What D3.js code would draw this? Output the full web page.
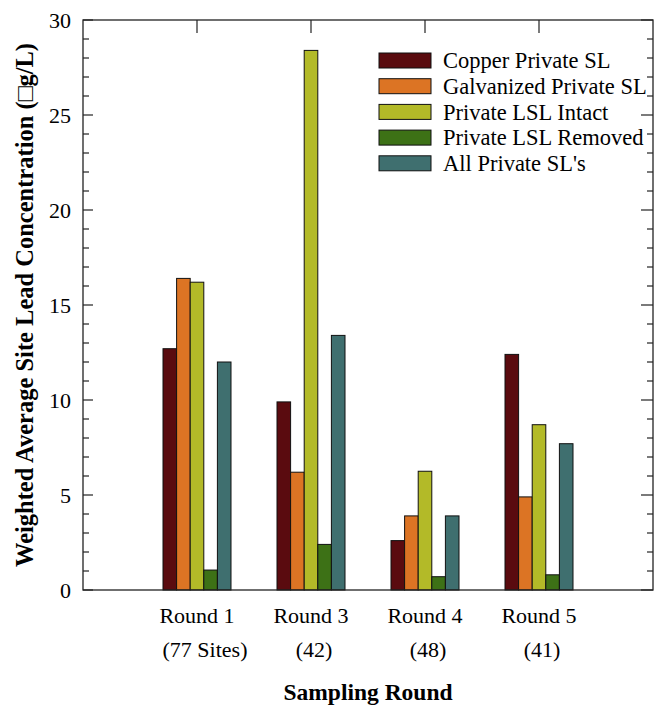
<!DOCTYPE html>
<html>
<head>
<meta charset="utf-8">
<script src="https://cdn.jsdelivr.net/npm/d3@7"></script>
<style>
  body { margin: 0; background: #fff; }
  svg { display: block; font-family: "Liberation Serif", "Times New Roman", serif; }
</style>
</head>
<body>
<div id="chart"></div>
<script>
const rounds = ["Round 1", "Round 3", "Round 4", "Round 5"];
const siteCounts = ["(77 Sites)", "(42)", "(48)", "(41)"];
const seriesNames = ["Copper Private SL", "Galvanized Private SL", "Private LSL Intact", "Private LSL Removed", "All Private SL's"];
const seriesColors = ["#5a0b0f", "#dc7424", "#b3ba28", "#3d7116", "#3f6f6f"];

const copperSL = [12.7, 9.9, 2.6, 12.4];
const galvanizedSL = [16.4, 6.2, 3.9, 4.9];
const lslIntact = [16.2, 28.4, 6.25, 8.7];
const lslRemoved = [1.05, 2.4, 0.7, 0.8];
const allPrivateSL = [12.0, 13.4, 3.9, 7.7];
const seriesValues = [copperSL, galvanizedSL, lslIntact, lslRemoved, allPrivateSL];

const yTicks = [0, 5, 10, 15, 20, 25, 30];

const margin = { top: 20, right: 1, bottom: 116, left: 83 };
const width = 654 - margin.left - margin.right;
const height = 706 - margin.top - margin.bottom;

const svg = d3.select("#chart")
  .append("svg")
    .attr("width", 654)
    .attr("height", 706)
  .append("g")
    .attr("transform", `translate(${margin.left}, ${margin.top})`);

const x = d3.scalePoint()
  .domain(rounds)
  .range([0, width])
  .padding(1);

const barW = 13.6;
const xSub = d3.scaleBand()
  .domain(seriesNames)
  .range([-barW * 2.5, barW * 2.5]);

const y = d3.scaleLinear()
  .domain([0, 30])
  .range([height, 0]);

// bars
seriesNames.forEach((name, si) => {
  svg.append("g")
    .selectAll("rect")
    .data(rounds)
    .enter()
    .append("rect")
      .attr("x", d => x(d) + xSub(name))
      .attr("y", (d, i) => y(seriesValues[si][i]))
      .attr("width", xSub.bandwidth())
      .attr("height", (d, i) => y(0) - y(seriesValues[si][i]))
      .attr("fill", seriesColors[si])
      .attr("stroke", "#111")
      .attr("stroke-width", 1);
});

// frame
svg.append("rect")
  .attr("x", 0).attr("y", 0)
  .attr("width", width).attr("height", height)
  .attr("fill", "none")
  .attr("stroke", "#222")
  .attr("stroke-width", 1.3);

const minorTicks = d3.range(0, 31, 1);

// left axis: inward ticks
const leftAxis = svg.append("g");
leftAxis.selectAll("line")
  .data(minorTicks)
  .enter()
  .append("line")
    .attr("x1", 0)
    .attr("x2", d => d % 5 === 0 ? 10 : 6)
    .attr("y1", d => y(d))
    .attr("y2", d => y(d))
    .attr("stroke", "#222")
    .attr("stroke-width", 1.2);

leftAxis.selectAll("text")
  .data(yTicks)
  .enter()
  .append("text")
    .attr("x", -12)
    .attr("y", d => y(d))
    .attr("dy", "0.35em")
    .attr("text-anchor", "end")
    .style("font-size", "22px")
    .text(d => d);

// right axis: inward ticks
svg.append("g")
  .selectAll("line")
  .data(minorTicks)
  .enter()
  .append("line")
    .attr("x1", width)
    .attr("x2", d => width - (d % 5 === 0 ? 12 : 6))
    .attr("y1", d => y(d))
    .attr("y2", d => y(d))
    .attr("stroke", "#222")
    .attr("stroke-width", 1.2);

// top axis ticks at categories
svg.append("g")
  .selectAll("line")
  .data(rounds)
  .enter()
  .append("line")
    .attr("x1", d => x(d))
    .attr("x2", d => x(d))
    .attr("y1", 0)
    .attr("y2", 13)
    .attr("stroke", "#222")
    .attr("stroke-width", 1.2);

// x labels
svg.append("g")
  .selectAll("text")
  .data(rounds)
  .enter()
  .append("text")
    .attr("x", d => x(d))
    .attr("y", height + 33)
    .attr("text-anchor", "middle")
    .style("font-size", "22px")
    .text(d => d);

svg.append("g")
  .selectAll("text")
  .data(rounds)
  .enter()
  .append("text")
    .attr("x", (d, i) => x(d) + (i === 0 ? 8 : 3))
    .attr("y", height + 67)
    .attr("text-anchor", "middle")
    .style("font-size", "22px")
    .text((d, i) => siteCounts[i]);

// axis titles
svg.append("text")
  .attr("x", width / 2)
  .attr("y", height + 110)
  .attr("text-anchor", "middle")
  .style("font-size", "23.5px")
  .style("font-weight", "bold")
  .text("Sampling Round");

svg.append("text")
  .attr("transform", "rotate(-90)")
  .attr("x", -height / 2)
  .attr("y", -50)
  .attr("text-anchor", "middle")
  .style("font-size", "24.5px")
  .style("font-weight", "bold")
  .text("Weighted Average Site Lead Concentration (\u25A1g/L)");

// legend
const legend = svg.append("g")
  .attr("transform", "translate(296, 33)");

seriesNames.forEach((name, i) => {
  const row = legend.append("g")
    .attr("transform", `translate(0, ${i * 25.7})`);
  row.append("rect")
    .attr("width", 52)
    .attr("height", 15)
    .attr("fill", seriesColors[i])
    .attr("stroke", "#111")
    .attr("stroke-width", 1);
  row.append("text")
    .attr("x", 64)
    .attr("y", 7.5)
    .attr("dy", "0.35em")
    .style("font-size", "22.5px")
    .text(name);
});
</script>
</body>
</html>
